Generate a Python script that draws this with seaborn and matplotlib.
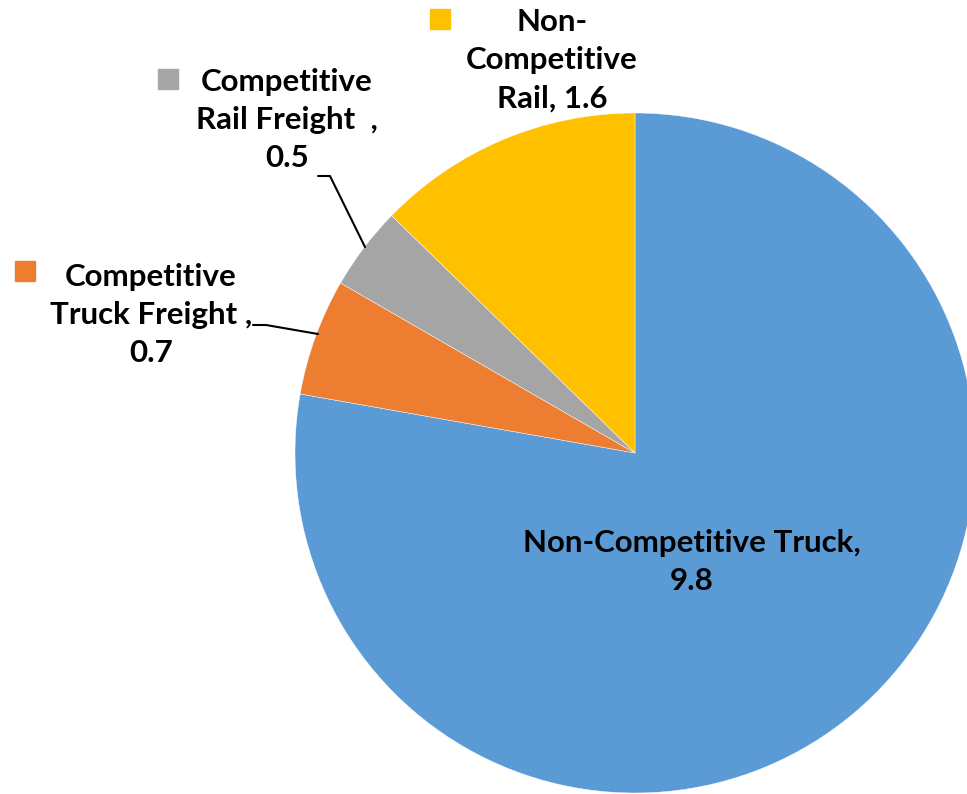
import matplotlib.pyplot as plt
import seaborn as sns

# Data
categories = ['Non-Competitive Truck', 'Competitive Truck Freight', 'Competitive Rail Freight', 'Non-Competitive Rail']
values = [9.8, 0.7, 0.5, 1.6]
label_texts = ['Non-Competitive Truck,\n9.8',
               'Competitive\nTruck Freight ,\n0.7',
               'Competitive\nRail Freight  ,\n0.5',
               'Non-\nCompetitive\nRail, 1.6']
colors = ['#5B9BD5', '#ED7D31', '#A5A5A5', '#FFC000']

sns.set_theme(style='white')
plt.rcParams['font.family'] = ['Lato', 'DejaVu Sans']

W, H = 967, 794
CX, CY, R = 635, 453, 340


def px(x, y):
    # pixel position (from top-left) -> data coords of the pie axes
    return (x - CX) / R, (CY - y) / R


fig = plt.figure(figsize=(W / 100, H / 100), dpi=100)
ax = fig.add_axes([0, 0, 1, 1])
ax.pie(values, colors=colors, startangle=90, counterclock=False, radius=1,
       wedgeprops=dict(linewidth=0.3, edgecolor='white'))
x0, y0 = px(0, H)
x1, y1 = px(W, 0)
ax.set_xlim(x0, x1)
ax.set_ylim(y0, y1)
ax.set_aspect('equal')
ax.axis('off')

font = dict(fontsize=22.5, fontweight='bold', color='black', ha='center', va='center',
            linespacing=1.45)

# inside label
ax.text(*px(692, 562), label_texts[0], **font)

# outside labels with legend keys
label_pos = [None, (151, 315), (287, 120), (552, 60)]
key_pos = [None, (25, 271), (168, 79), (440, 19)]
for i in range(1, 4):
    ax.text(*px(*label_pos[i]), label_texts[i], **font)
    ax.plot(*px(*key_pos[i]), marker='s', markersize=14, color=colors[i], linestyle='none')

# leader lines
truck_line = [px(253, 325), px(266, 325), px(318, 334)]
rail_line = [px(318, 176), px(330, 176), px(365, 247)]
for line in (truck_line, rail_line):
    ax.plot([p[0] for p in line], [p[1] for p in line], color='black', linewidth=1.5)

fig.savefig('out.png', dpi=100)
